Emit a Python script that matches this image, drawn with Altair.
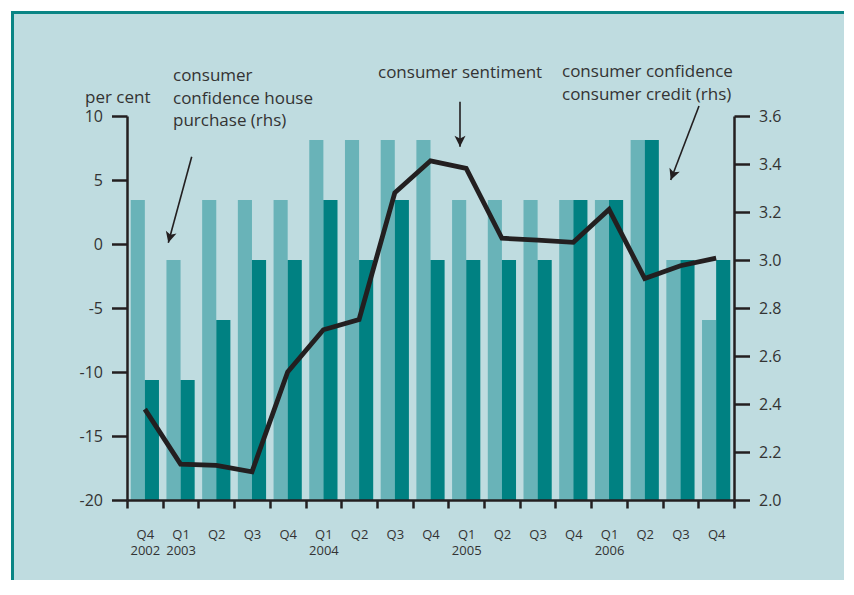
import altair as alt
import pandas as pd

quarters = ["Q4 2002", "Q1 2003", "Q2 2003", "Q3 2003", "Q4 2003",
            "Q1 2004", "Q2 2004", "Q3 2004", "Q4 2004",
            "Q1 2005", "Q2 2005", "Q3 2005", "Q4 2005",
            "Q1 2006", "Q2 2006", "Q3 2006", "Q4 2006"]
house_purchase = [3.25, 3.0, 3.25, 3.25, 3.25, 3.5, 3.5, 3.5, 3.5,
                  3.25, 3.25, 3.25, 3.25, 3.25, 3.5, 3.0, 2.75]
consumer_credit = [2.5, 2.5, 2.75, 3.0, 3.0, 3.25, 3.0, 3.25, 3.0,
                   3.0, 3.0, 3.0, 3.25, 3.25, 3.5, 3.0, 3.0]
sentiment = [-12.9, -17.2, -17.3, -17.8, -10.0, -6.7, -5.9, 4.0, 6.5,
             5.9, 0.45, 0.3, 0.13, 2.7, -2.7, -1.7, -1.1]
year_labels = ["Q4 2002", "Q1 2003", "Q1 2004", "Q1 2005", "Q1 2006"]
lhs_ticks = [-20, -15, -10, -5, 0, 5, 10]
rhs_ticks = [2.0, 2.2, 2.4, 2.6, 2.8, 3.0, 3.2, 3.4, 3.6]

series = ["house", "credit"]
bars_df = pd.DataFrame({
    "quarter": quarters * 2,
    "series": ["house"] * len(quarters) + ["credit"] * len(quarters),
    "value": house_purchase + consumer_credit,
})
line_df = pd.DataFrame({"quarter": quarters, "sentiment": sentiment})

INK = "#231f20"
TXT = "#333333"
FONT = "Open Sans"
FS = 17
BG = "#bfdce0"
BORDER = "#0a8585"
LIGHT = "#69b3b8"
DARK = "#008182"

one = alt.Data(values=[{}])

label_expr = ("!isString(datum.value) ? '' : indexof(" + str(year_labels).replace('"', "'") +
              ", datum.value) >= 0 ? split(datum.value, ' ') : split(datum.value, ' ')[0]")

xscale = alt.Scale(domain=quarters, paddingInner=0, paddingOuter=0)
xaxis = alt.Axis(title=None, tickBand="extent", tickSize=8, tickWidth=2.5,
                 tickColor=INK, domainColor=INK, domainWidth=2.5,
                 labelFontSize=13, labelColor=TXT, labelFont=FONT,
                 labelPadding=20, labelAngle=0, labelLineHeight=16,
                 labelExpr=label_expr, zindex=1, grid=False)

margin_left = alt.Chart(one).mark_rule(color="white", strokeWidth=4).encode(
    x=alt.value(-118), y=alt.value(-120), y2=alt.value(520)
)
margin_top = alt.Chart(one).mark_rule(color="white", strokeWidth=4).encode(
    x=alt.value(-130), x2=alt.value(760), y=alt.value(-107)
)
border_left = alt.Chart(one).mark_rule(color=BORDER, strokeWidth=3).encode(
    x=alt.value(-114.5), y=alt.value(-105), y2=alt.value(520)
)
border_top = alt.Chart(one).mark_rule(color=BORDER, strokeWidth=3).encode(
    x=alt.value(-116), x2=alt.value(760), y=alt.value(-103.5)
)

yaxis_common = dict(title=None, tickSize=15.5, tickWidth=2.5, tickColor=INK,
                    domainColor=INK, domainWidth=2.5, labelFontSize=16, labelFont=FONT,
                    labelColor=TXT, labelPadding=9, grid=False, zindex=1)

bars = alt.Chart(bars_df).mark_bar().encode(
    x=alt.X("quarter:N", scale=xscale, sort=quarters, axis=xaxis),
    xOffset=alt.XOffset("series:N", sort=series,
                        scale=alt.Scale(domain=series, paddingOuter=0.265, paddingInner=0)),
    y=alt.Y("value:Q", stack=None,
            scale=alt.Scale(domain=[2.0, 3.6], nice=False, zero=False),
            axis=alt.Axis(orient="right", values=rhs_ticks, format=".1f", **yaxis_common)),
    y2=alt.datum(2.0),
    color=alt.Color("series:N", scale=alt.Scale(domain=series, range=[LIGHT, DARK]), legend=None),
)

line = alt.Chart(line_df).mark_line(color=INK, strokeWidth=4.8, strokeJoin="miter").encode(
    x=alt.X("quarter:N", scale=xscale, sort=quarters, axis=xaxis),
    y=alt.Y("sentiment:Q",
            scale=alt.Scale(domain=[-20, 10], nice=False, zero=False),
            axis=alt.Axis(orient="left", values=lhs_ticks, labelExpr="'' + datum.value",
                          **yaxis_common)),
)

def txt(lines, x, y, lh=22.5):
    return alt.Chart(one).mark_text(
        text=lines, align="left", baseline="alphabetic", font=FONT, fontSize=FS,
        color=TXT, lineHeight=lh
    ).encode(x=alt.value(x), y=alt.value(y))

t_percent = txt("per cent", -42, -13)
t_house = txt(["consumer", "confidence house", "purchase (rhs)"], 46, -35)
t_sent = txt("consumer sentiment", 251, -37.7)
t_credit = txt(["consumer confidence", "consumer credit (rhs)"], 435, -38.7, 22.7)

ARROW = "M0,0 L-0.5,-1 L0,-0.75 L0.5,-1 Z"

def arrow(x0, y0, x1, y1, ang):
    shaft = alt.Chart(one).mark_rule(color=INK, strokeWidth=1.6).encode(
        x=alt.value(x0), y=alt.value(y0), x2=alt.value(x1), y2=alt.value(y1))
    head = alt.Chart(one).mark_point(shape=ARROW, filled=True, fill=INK, strokeWidth=0,
                                     size=484, angle=ang, opacity=1).encode(
        x=alt.value(x1), y=alt.value(y1))
    return shaft + head

a1 = arrow(64.7, 40.7, 41.3, 126.7, 15.2)
a2 = arrow(333, -14.3, 333, 30.7, 0)
a3 = arrow(572, -10, 543.7, 64, 20.9)

chart = alt.layer(
    margin_left, margin_top, border_left, border_top, bars, line,
    t_percent, t_house, t_sent, t_credit, a1, a2, a3
).resolve_scale(y="independent").properties(
    width=607, height=384,
    autosize=alt.AutoSizeParams(type="none"),
    padding={"left": 119, "top": 108, "right": 110, "bottom": 80},
    background=BG,
).configure_view(stroke=None)

chart.save("out.html", embed_options={"renderer": "svg", "actions": False})
